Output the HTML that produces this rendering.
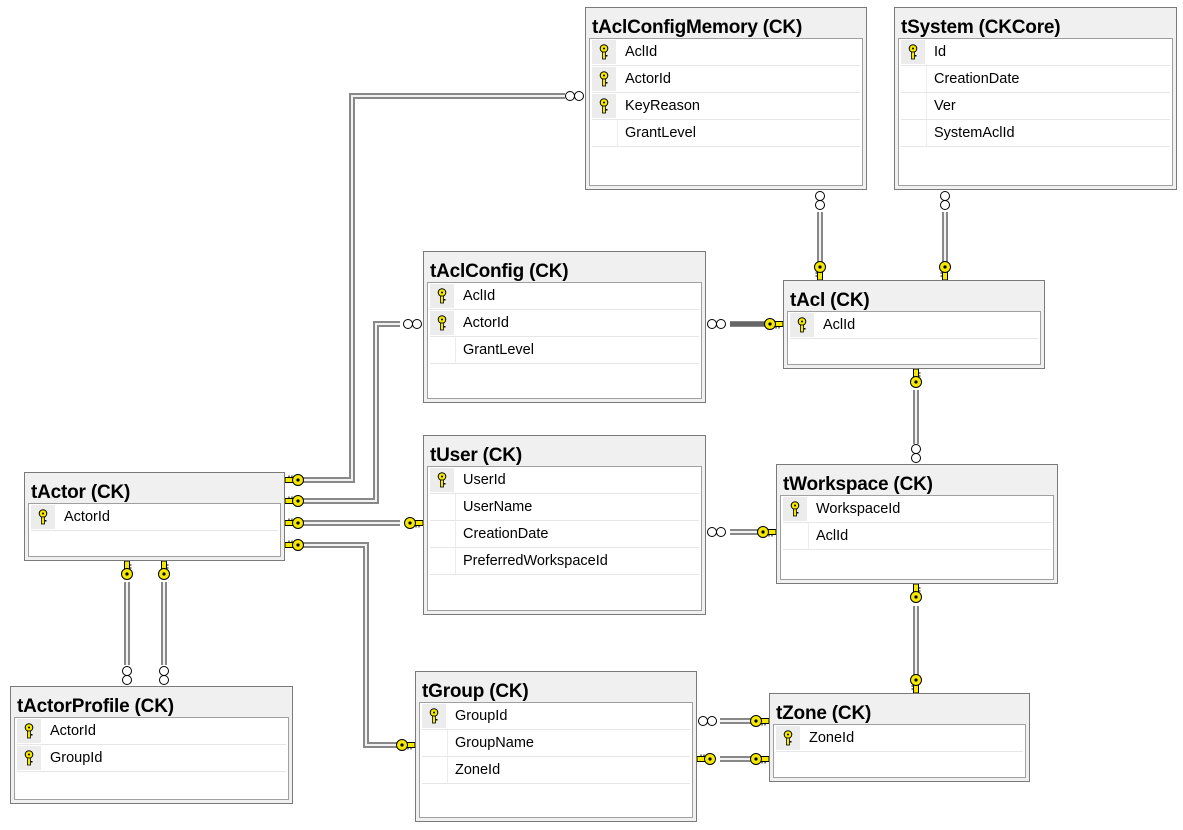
<!DOCTYPE html>
<html><head><meta charset="utf-8"><style>
body{margin:0;width:1183px;height:830px;background:#fff;position:relative;overflow:hidden;font-family:"Liberation Sans",sans-serif}
.t{position:absolute;background:#f0f0f0;border:1px solid #7a7a7a;box-sizing:border-box}
.t .h{position:absolute;left:6px;top:9px;font-weight:bold;font-size:19px;color:#000;white-space:nowrap;letter-spacing:-0.2px}
.t .b{position:absolute;left:3px;right:3px;top:30px;bottom:3px;background:#fff;border:1px solid #a0a0a0}
.r{height:26px;border-bottom:1px solid #e6e6e6;margin:0 2px;position:relative;font-size:14.5px;line-height:26px;color:#000}
.r span{position:absolute;left:33px}
.r .k{position:absolute;left:0;top:1px;width:24px;height:24px;background:#ececec}
.r .n{position:absolute;left:0;top:0;width:25px;height:26px;border-right:1px solid #ececec}
svg{position:absolute;left:0;top:0}
</style></head><body>
<svg width="1183" height="830">
<defs>
<symbol id="key" viewBox="0 0 10 16" overflow="visible"><circle cx="5" cy="4.5" r="3.8" fill="#f5e800" stroke="#000" stroke-width="1"/><circle cx="5" cy="4.5" r="1" fill="#000"/><rect x="3.5" y="8" width="3" height="7" fill="#f5e800" stroke="#000" stroke-width="0.8"/><rect x="6.5" y="11" width="2" height="1.5" fill="#000"/></symbol>
<g id="ke"><rect x="-9" y="-2.5" width="9" height="5" fill="#f5e800" stroke="#000" stroke-width="1"/><path d="M-7 2.5v2M-4 2.5v2" stroke="#000"/><circle cx="-13" cy="0" r="5.5" fill="#f5e800" stroke="#000" stroke-width="1"/><circle cx="-13" cy="0" r="1.6" fill="#000"/></g>
<g id="me"><circle cx="-6" cy="0" r="4.5" fill="#fff" stroke="#000"/><circle cx="-15" cy="0" r="4.5" fill="#fff" stroke="#000"/></g>
</defs>
<g fill="none" stroke-linejoin="miter">
<g stroke="#888" stroke-width="6">
<path d="M565 96H352V480H303"/><path d="M400 324H376V501H303"/><path d="M400 523H303"/><path d="M397 745H366V545H303"/>
<path d="M127 582V665M164 582V665"/><path d="M820 212V262M945 212V262"/><path d="M730 324H765"/>
<path d="M916 390V444M916 606V675"/><path d="M730 532H758"/><path d="M720 721H751M720 759H751"/>
</g>
<g stroke="#f2f2f2" stroke-width="2">
<path d="M565 96H352V480H303"/><path d="M400 324H376V501H303"/><path d="M400 523H303"/><path d="M397 745H366V545H303"/>
<path d="M127 582V665M164 582V665"/><path d="M820 212V262M945 212V262"/>
<path d="M916 390V444M916 606V675"/><path d="M730 532H758"/><path d="M720 721H751M720 759H751"/>
</g>
<path d="M730 324H765" stroke="#666" stroke-width="4"/>
</g>
<use href="#me" transform="translate(585,96)"/>
<use href="#ke" transform="translate(285,480) rotate(180)"/>
<use href="#me" transform="translate(423,324)"/>
<use href="#ke" transform="translate(285,501) rotate(180)"/>
<use href="#ke" transform="translate(423,523)"/>
<use href="#ke" transform="translate(285,523) rotate(180)"/>
<use href="#ke" transform="translate(415,745)"/>
<use href="#ke" transform="translate(285,545) rotate(180)"/>
<use href="#ke" transform="translate(127,561) rotate(-90)"/>
<use href="#ke" transform="translate(164,561) rotate(-90)"/>
<use href="#me" transform="translate(127,686) rotate(90)"/>
<use href="#me" transform="translate(164,686) rotate(90)"/>
<use href="#me" transform="translate(820,190) rotate(-90)"/>
<use href="#ke" transform="translate(820,280) rotate(90)"/>
<use href="#me" transform="translate(945,190) rotate(-90)"/>
<use href="#ke" transform="translate(945,280) rotate(90)"/>
<use href="#me" transform="translate(706,324) rotate(180)"/>
<use href="#ke" transform="translate(783,324)"/>
<use href="#ke" transform="translate(916,369) rotate(-90)"/>
<use href="#me" transform="translate(916,464) rotate(90)"/>
<use href="#me" transform="translate(706,532) rotate(180)"/>
<use href="#ke" transform="translate(776,532)"/>
<use href="#ke" transform="translate(916,584) rotate(-90)"/>
<use href="#ke" transform="translate(916,693) rotate(90)"/>
<use href="#me" transform="translate(697,721) rotate(180)"/>
<use href="#ke" transform="translate(769,721)"/>
<use href="#ke" transform="translate(697,759) rotate(180)"/>
<use href="#ke" transform="translate(769,759)"/>
</svg>

<div class="t" style="left:585px;top:7px;width:282px;height:183px"><div class="h">tAclConfigMemory (CK)</div><div class="b">
<div class="r"><div class="k"><svg width="24" height="24"><use href="#key" x="7" y="4" width="10" height="16"/></svg></div><span>AclId</span></div>
<div class="r"><div class="k"><svg width="24" height="24"><use href="#key" x="7" y="4" width="10" height="16"/></svg></div><span>ActorId</span></div>
<div class="r"><div class="k"><svg width="24" height="24"><use href="#key" x="7" y="4" width="10" height="16"/></svg></div><span>KeyReason</span></div>
<div class="r"><div class="n"></div><span>GrantLevel</span></div></div></div>

<div class="t" style="left:894px;top:7px;width:283px;height:183px"><div class="h">tSystem (CKCore)</div><div class="b">
<div class="r"><div class="k"><svg width="24" height="24"><use href="#key" x="7" y="4" width="10" height="16"/></svg></div><span>Id</span></div>
<div class="r"><div class="n"></div><span>CreationDate</span></div>
<div class="r"><div class="n"></div><span>Ver</span></div>
<div class="r"><div class="n"></div><span>SystemAclId</span></div></div></div>

<div class="t" style="left:423px;top:251px;width:283px;height:152px"><div class="h">tAclConfig (CK)</div><div class="b">
<div class="r"><div class="k"><svg width="24" height="24"><use href="#key" x="7" y="4" width="10" height="16"/></svg></div><span>AclId</span></div>
<div class="r"><div class="k"><svg width="24" height="24"><use href="#key" x="7" y="4" width="10" height="16"/></svg></div><span>ActorId</span></div>
<div class="r"><div class="n"></div><span>GrantLevel</span></div></div></div>

<div class="t" style="left:783px;top:280px;width:262px;height:89px"><div class="h">tAcl (CK)</div><div class="b">
<div class="r"><div class="k"><svg width="24" height="24"><use href="#key" x="7" y="4" width="10" height="16"/></svg></div><span>AclId</span></div></div></div>

<div class="t" style="left:423px;top:435px;width:283px;height:180px"><div class="h">tUser (CK)</div><div class="b">
<div class="r"><div class="k"><svg width="24" height="24"><use href="#key" x="7" y="4" width="10" height="16"/></svg></div><span>UserId</span></div>
<div class="r"><div class="n"></div><span>UserName</span></div>
<div class="r"><div class="n"></div><span>CreationDate</span></div>
<div class="r"><div class="n"></div><span>PreferredWorkspaceId</span></div></div></div>

<div class="t" style="left:776px;top:464px;width:282px;height:120px"><div class="h">tWorkspace (CK)</div><div class="b">
<div class="r"><div class="k"><svg width="24" height="24"><use href="#key" x="7" y="4" width="10" height="16"/></svg></div><span>WorkspaceId</span></div>
<div class="r"><div class="n"></div><span>AclId</span></div></div></div>

<div class="t" style="left:24px;top:472px;width:261px;height:89px"><div class="h">tActor (CK)</div><div class="b">
<div class="r"><div class="k"><svg width="24" height="24"><use href="#key" x="7" y="4" width="10" height="16"/></svg></div><span>ActorId</span></div></div></div>

<div class="t" style="left:10px;top:686px;width:283px;height:118px"><div class="h">tActorProfile (CK)</div><div class="b">
<div class="r"><div class="k"><svg width="24" height="24"><use href="#key" x="7" y="4" width="10" height="16"/></svg></div><span>ActorId</span></div>
<div class="r"><div class="k"><svg width="24" height="24"><use href="#key" x="7" y="4" width="10" height="16"/></svg></div><span>GroupId</span></div></div></div>

<div class="t" style="left:415px;top:671px;width:282px;height:151px"><div class="h">tGroup (CK)</div><div class="b">
<div class="r"><div class="k"><svg width="24" height="24"><use href="#key" x="7" y="4" width="10" height="16"/></svg></div><span>GroupId</span></div>
<div class="r"><div class="n"></div><span>GroupName</span></div>
<div class="r"><div class="n"></div><span>ZoneId</span></div></div></div>

<div class="t" style="left:769px;top:693px;width:261px;height:89px"><div class="h">tZone (CK)</div><div class="b">
<div class="r"><div class="k"><svg width="24" height="24"><use href="#key" x="7" y="4" width="10" height="16"/></svg></div><span>ZoneId</span></div></div></div>
</body></html>
